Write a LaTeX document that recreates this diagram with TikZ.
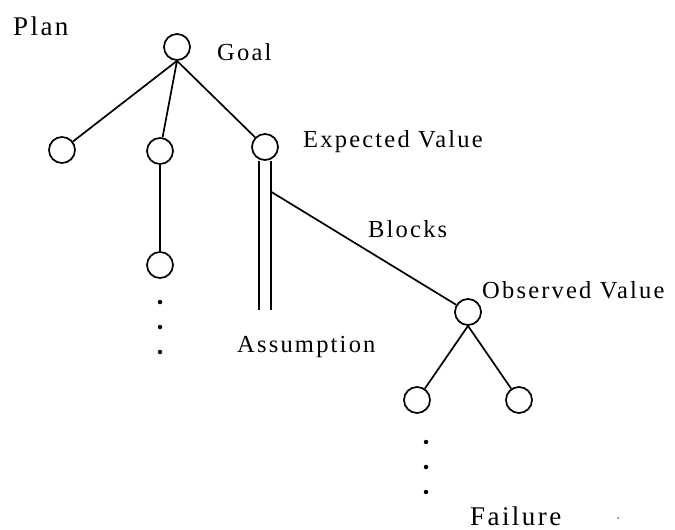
\documentclass[tikz,border=0pt]{standalone}
\usepackage{fontspec}
\setmainfont{Liberation Serif}[LetterSpace=9]
\begin{document}
\begin{tikzpicture}[x=1pt,y=-1pt,
  vtx/.style={draw,circle,line width=1.7pt,minimum size=26pt,inner sep=0pt},
  edge/.style={line width=1.7pt},
  lbl/.style={anchor=base west,inner sep=0pt,font=\fontsize{24.5}{28}\selectfont},
  big/.style={anchor=base west,inner sep=0pt,font=\fontsize{27}{32}\selectfont},
  dotmark/.style={fill,circle,inner sep=0pt,minimum size=4.5pt}]
\useasboundingbox (0,0) rectangle (675,530);
% nodes
\node[vtx] (goal) at (177,47) {};
\node[vtx] (c1) at (62,150) {};
\node[vtx] (c2) at (160,151) {};
\node[vtx] (ev) at (265,147) {};
\node[vtx] (c2b) at (160,265) {};
\node[vtx] (obs) at (468,312) {};
\node[vtx] (o1) at (417,400) {};
\node[vtx] (o2) at (519,400) {};
\coordinate (assump) at (265,310);
\coordinate (blk) at (271.5,192);
% edges
\draw[edge] (goal.south) -- (c1);
\draw[edge] (goal.south) -- (c2);
\draw[edge] (goal.south) -- (ev);
\draw[edge] (c2) -- (c2b);
\draw[line width=1.7pt,double=white,double distance=10.8pt] (ev.south) -- (assump);
\draw[edge] (blk) -- (obs);
\draw[edge] (obs.south) -- (o1);
\draw[edge] (obs.south) -- (o2);
% dots
\node[dotmark] (d1) at (160,302) {};
\node[dotmark] (d2) at (160,327) {};
\node[dotmark] (d3) at (160,352) {};
\node[dotmark] (e1) at (426,442) {};
\node[dotmark] (e2) at (426,467) {};
\node[dotmark] (e3) at (426,492) {};
\node[fill,circle,inner sep=0pt,minimum size=1.5pt] (spk) at (618,518) {};
% labels
\node[big] (tplan) at (13,35) {Plan};
\node[lbl] (tgoal) at (217,60) {Goal};
\node[lbl] (tev) at (303,147) {Expected Value};
\node[lbl] (tblk) at (368,237) {Blocks};
\node[lbl] (tobs) at (482,298) {Observed Value};
\node[lbl] (tass) at (237,352) {Assumption};
\node[big] (tfail) at (470,525) {Failure};
\end{tikzpicture}
\end{document}
